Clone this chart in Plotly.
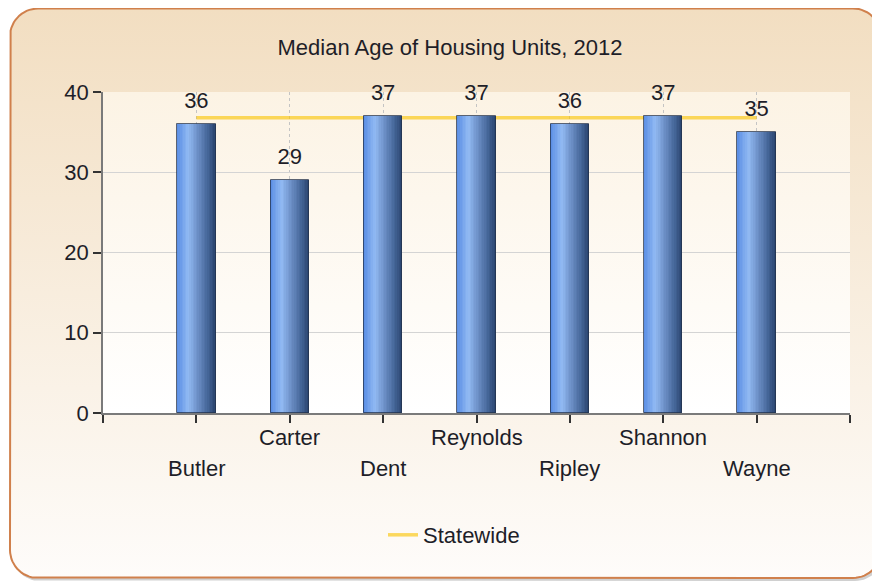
import numpy as np
import plotly.graph_objects as go

# ---- data ----
categories = ["Butler", "Carter", "Dent", "Reynolds", "Ripley", "Shannon", "Wayne"]
median_age = [36, 29, 37, 37, 36, 37, 35]
statewide = [36.8, 36.8, 36.8, 36.8, 36.8, 36.8, 36.8]
y_ticks = [0, 10, 20, 30, 40]
title_text = "Median Age of Housing Units, 2012"
legend_name = "Statewide"

W, H = 880, 583
OFF = 8  # page body margin offset
PL, PR, PT, PB = 103 - OFF, 850 - OFF, 92 - OFF, 413 - OFF  # plot area in figure px
FONT = "Liberation Sans, Arial, sans-serif"
FS = 22
TXT = "#1e1e28"

xpos = list(range(len(categories)))

fig = go.Figure()


def rrect(x0, y0, x1, y1, r, n=16):
    xs, ys = [], []
    corners = [(x1 - r, y0 + r, -90, 0), (x1 - r, y1 - r, 0, 90),
               (x0 + r, y1 - r, 90, 180), (x0 + r, y0 + r, 180, 270)]
    for cx, cy, a0, a1 in corners:
        for a in np.linspace(np.radians(a0), np.radians(a1), n):
            xs.append(cx + r * np.cos(a))
            ys.append(cy + r * np.sin(a))
    xs.append(xs[0]); ys.append(ys[0])
    return xs, ys


# ---- background decoration on a full-figure pixel axis (x / y) ----
sx, sy = rrect(12 - OFF, 11 - OFF, 883 - OFF, 581 - OFF, 28)
fig.add_trace(go.Scatter(x=sx, y=sy, mode="lines", fill="toself",
                         fillcolor="rgba(120,120,120,0.35)", line=dict(width=0),
                         xaxis="x", yaxis="y", showlegend=False, hoverinfo="skip"))
bx, by = rrect(10 - OFF, 8.5 - OFF, 881 - OFF, 578 - OFF, 28)
fig.add_trace(go.Scatter(x=bx, y=by, mode="lines", fill="toself",
                         fillgradient=dict(type="vertical",
                                           colorscale=[[0, "#fefcfa"], [1, "#f2dec1"]]),
                         line=dict(color="#d0804c", width=2),
                         xaxis="x", yaxis="y", showlegend=False, hoverinfo="skip"))
fig.add_trace(go.Scatter(x=[PL, PR, PR, PL, PL], y=[PT, PT, PB, PB, PT], mode="lines",
                         fill="toself",
                         fillgradient=dict(type="vertical",
                                           colorscale=[[0, "#ffffff"], [1, "#fcf3e4"]]),
                         line=dict(width=0),
                         xaxis="x", yaxis="y", showlegend=False, hoverinfo="skip"))

# ---- statewide line (behind bars) ----
fig.add_trace(go.Scatter(x=xpos, y=statewide, mode="lines", name=legend_name,
                         line=dict(color="rgba(250,196,0,0.62)", width=3.5),
                         xaxis="x2", yaxis="y2"))

# ---- gradient bars (stripes) ----
bw = 0.41
N = 24
stops = [(0.0, (88, 140, 228)), (0.3, (146, 186, 243)), (0.55, (108, 143, 198)),
         (0.8, (70, 103, 154)), (1.0, (42, 68, 110))]


def col(t):
    for (t0, c0), (t1, c1) in zip(stops[:-1], stops[1:]):
        if t <= t1:
            f = (t - t0) / (t1 - t0)
            c = [int(round(a + (b - a) * f)) for a, b in zip(c0, c1)]
            return "rgb(%d,%d,%d)" % tuple(c)
    return "rgb(%d,%d,%d)" % stops[-1][1]


for i in range(N):
    t = (i + 0.5) / N
    fig.add_trace(go.Bar(x=xpos, y=median_age, width=bw / N * 1.05,
                         offset=-bw / 2 + i * bw / N,
                         marker=dict(color=col(t), line=dict(width=0)),
                         xaxis="x3", yaxis="y3", showlegend=False, hoverinfo="skip"))
fig.add_trace(go.Bar(x=xpos, y=median_age, width=bw,
                     marker=dict(color="rgba(0,0,0,0)",
                                 line=dict(color="rgba(35,50,75,0.75)", width=1)),
                     xaxis="x3", yaxis="y3", showlegend=False, hoverinfo="skip"))

# ---- value labels ----
fig.add_trace(go.Scatter(x=xpos, y=median_age, mode="markers+text",
                         text=[str(v) for v in median_age],
                         textposition="top center",
                         marker=dict(size=16, opacity=0),
                         textfont=dict(family=FONT, size=FS, color=TXT),
                         xaxis="x3", yaxis="y3", showlegend=False, hoverinfo="skip",
                         cliponaxis=False))

# ---- staggered category labels ----
for i, c in enumerate(categories):
    fig.add_annotation(x=xpos[i], y=0, xref="x2", yref="y2", text=c, showarrow=False,
                       yanchor="middle", yshift=-24 if i % 2 else -55,
                       font=dict(family=FONT, size=FS, color=TXT))

xdom = [PL / W, PR / W]
ydom = [(H - PB) / H, (H - PT) / H]

fig.update_layout(
    width=W, height=H,
    margin=dict(l=0, r=0, t=0, b=0, autoexpand=False),
    paper_bgcolor="white", plot_bgcolor="rgba(0,0,0,0)",
    barmode="overlay", bargap=0,
    font=dict(family=FONT, size=FS, color=TXT),
    title=dict(text=title_text, x=(450 - OFF) / W, xanchor="center",
               y=1 - (47 - OFF) / H, yanchor="middle",
               font=dict(family=FONT, size=FS, color=TXT)),
    showlegend=True,
    legend=dict(orientation="h", x=(454 - OFF) / W, xanchor="center",
                y=1 - (535 - OFF) / H, yanchor="middle", bgcolor="rgba(0,0,0,0)",
                font=dict(family=FONT, size=FS, color=TXT)),
    xaxis=dict(domain=[0, 1], range=[0, W], visible=False, fixedrange=True,
               automargin=False),
    yaxis=dict(domain=[0, 1], range=[H, 0], visible=False, fixedrange=True,
               automargin=False),
    xaxis2=dict(domain=xdom, anchor="y2", range=[-1, len(categories)], automargin=False,
                tickmode="array", tickvals=list(range(-1, len(categories) + 1)),
                ticktext=[""] * (len(categories) + 2),
                showgrid=True, gridcolor="#c4c4c4", griddash="dot", gridwidth=1,
                ticks="outside", ticklen=8, tickcolor="#333333", tickwidth=1.5,
                showline=True, linecolor="#7a7a7a", linewidth=1.5, zeroline=False),
    yaxis2=dict(domain=ydom, anchor="x2", range=[0, 40], tickmode="array",
                automargin=False,
                tickvals=y_ticks, showgrid=True, gridcolor="#d4d4d4", gridwidth=1,
                ticks="outside", ticklen=8, tickcolor="#333333", tickwidth=1.5,
                showline=True, linecolor="#7a7a7a", linewidth=1.5, zeroline=False,
                tickfont=dict(family=FONT, size=FS, color=TXT)),
    xaxis3=dict(overlaying="x2", anchor="y3", range=[-1, len(categories)], visible=False,
                automargin=False),
    yaxis3=dict(overlaying="y2", anchor="x3", range=[0, 40], visible=False,
                automargin=False),
)

fig.write_html("out.html")
